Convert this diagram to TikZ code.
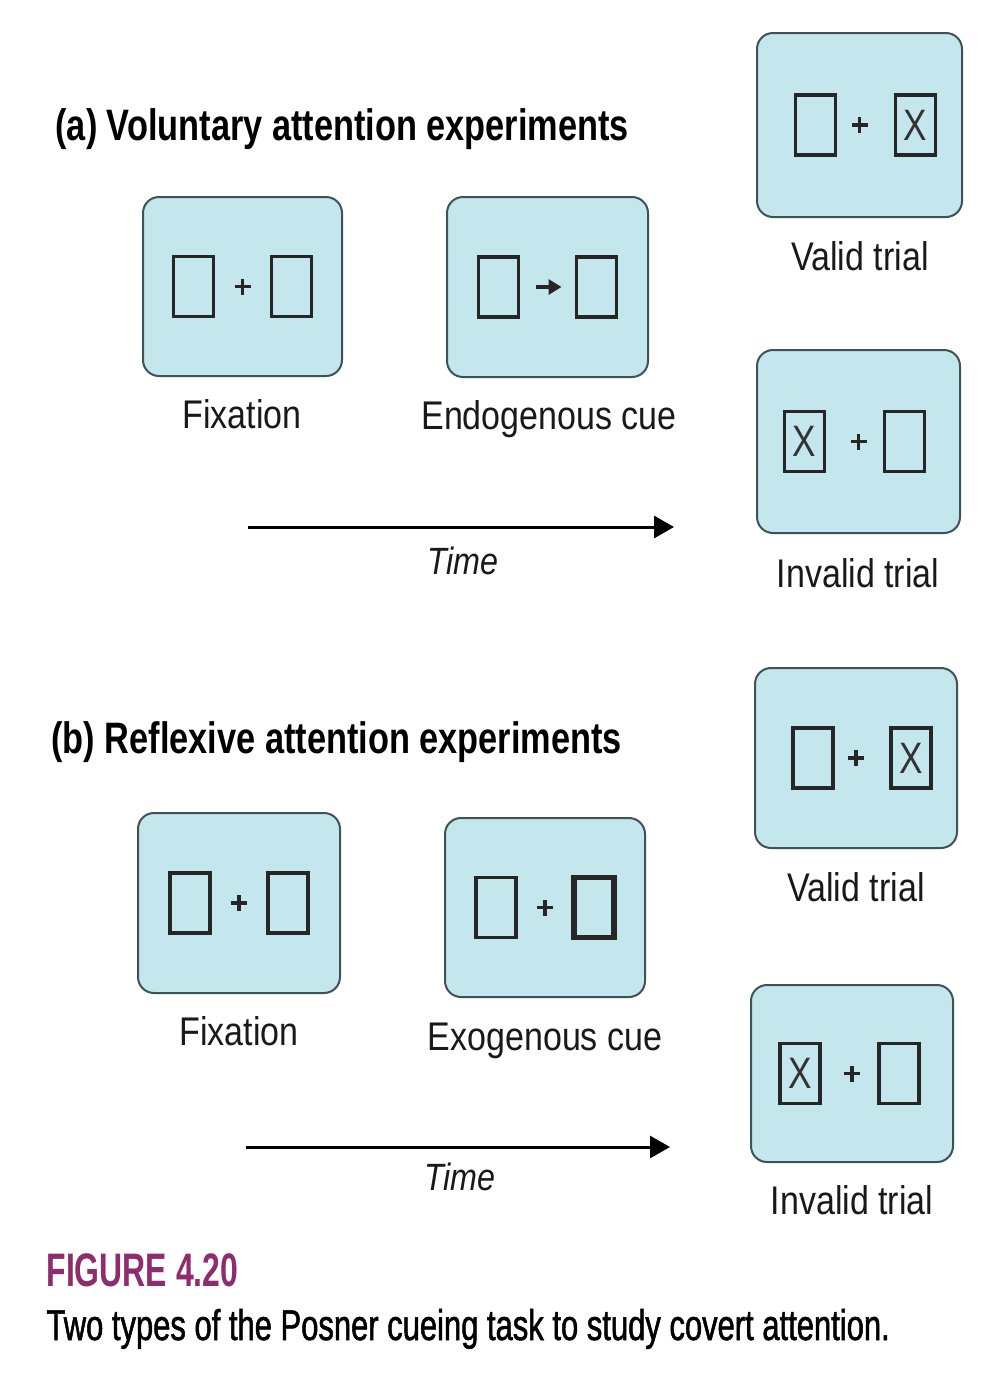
\documentclass[tikz,border=0pt]{standalone}
\usepackage{fontspec}
\usetikzlibrary{arrows.meta}
\newfontfamily\labfont[FakeStretch=0.85]{Liberation Sans}
\newfontfamily\headfont[FakeStretch=0.78]{Liberation Sans}
\newfontfamily\capfont[FakeStretch=0.72,FakeBold=1.2]{Liberation Sans}
\newfontfamily\figfont[FakeStretch=0.68]{Liberation Sans}
\newfontfamily\xletter[FakeStretch=0.8]{Liberation Sans}
\definecolor{panelfill}{RGB}{196,231,237}
\definecolor{paneledge}{RGB}{62,82,88}
\definecolor{figpurple}{RGB}{142,44,110}
\tikzset{
  panel/.style={draw=paneledge, line width=2pt, fill=panelfill, rounded corners=16pt, inner sep=0pt},
  slot/.style={draw=black!85, line width=3.4pt, minimum width=40pt, minimum height=60pt, inner sep=0pt,
    font=\xletter\fontsize{44}{44}\selectfont, text=black!80},
  boldslot/.style={slot, line width=5.5pt},
  lab/.style={anchor=base, font=\labfont\fontsize{40}{40}\selectfont, text=black!90},
  timelab/.style={anchor=base, font=\labfont\itshape\fontsize{38}{38}\selectfont, text=black!90},
  head/.style={anchor=base west, font=\headfont\bfseries\fontsize{44}{44}\selectfont},
  plusline/.style={line width=3.6pt, black!85},
  timearrow/.style={line width=3pt, -{Triangle[length=20pt,width=22pt]}},
}
\newcommand\plussign[1]{%
  \draw[plusline] ([xshift=-8pt]#1.center) -- ([xshift=8pt]#1.center);
  \draw[plusline] ([yshift=-8pt]#1.center) -- ([yshift=8pt]#1.center);}
\begin{document}
\begin{tikzpicture}[x=1pt,y=-1pt]
\useasboundingbox[fill=white] (0,0) rectangle (1008,1377);

% ---------- (a) ----------
\node[head] (ta) at (52,140) {(a) Voluntary attention experiments};

\node[panel, minimum width=199pt, minimum height=179pt] (fa) at (242.5,286.5) {};
\node[slot] (faL) at ([xshift=-49pt]fa.center) {};
\node[slot] (faR) at ([xshift=49pt]fa.center) {};
\plussign{fa}
\node[lab] (lfa) at (242,428) {Fixation};

\node[panel, minimum width=201pt, minimum height=180pt] (ea) at (547.5,287) {};
\node[slot] (eaL) at ([xshift=-49pt]ea.center) {};
\node[slot] (eaR) at ([xshift=49pt]ea.center) {};
\draw[line width=3.6pt, black!85, -{Triangle[length=13pt,width=15pt]}] ([xshift=-12pt]ea.center) -- ([xshift=14pt]ea.center);
\node[lab] (lea) at (549,429) {Endogenous cue};

\node[panel, minimum width=205pt, minimum height=184pt] (va) at (859.5,125) {};
\node[slot] (vaL) at ([xshift=-44pt]va.center) {};
\node[slot] (vaR) at ([xshift=56pt]va.center) {X};
\plussign{va}
\node[lab] (lva) at (860,270) {Valid trial};

\node[panel, minimum width=203pt, minimum height=183pt] (ia) at (858.5,441.5) {};
\node[slot] (iaL) at ([xshift=-54pt]ia.center) {X};
\node[slot] (iaR) at ([xshift=46pt]ia.center) {};
\plussign{ia}
\node[lab] (lia) at (858,587) {Invalid trial};

\coordinate (tas) at (248,527);
\coordinate (tae) at (674,527);
\draw[timearrow] (tas) -- (tae);
\node[timelab] (tla) at (463,574) {Time};

% ---------- (b) ----------
\node[head] (tb) at (48,753) {(b) Reflexive attention experiments};

\node[panel, minimum width=202pt, minimum height=180pt] (fb) at (239,903) {};
\node[slot] (fbL) at ([xshift=-49pt]fb.center) {};
\node[slot] (fbR) at ([xshift=49pt]fb.center) {};
\plussign{fb}
\node[lab] (lfb) at (239,1045) {Fixation};

\node[panel, minimum width=200pt, minimum height=179pt] (eb) at (545,907.5) {};
\node[slot] (ebL) at ([xshift=-49pt]eb.center) {};
\node[boldslot] (ebR) at ([xshift=49pt]eb.center) {};
\plussign{eb}
\node[lab] (leb) at (545,1050) {Exogenous cue};

\node[panel, minimum width=202pt, minimum height=180pt] (vb) at (856,758) {};
\node[slot] (vbL) at ([xshift=-43pt]vb.center) {};
\node[slot] (vbR) at ([xshift=55pt]vb.center) {X};
\plussign{vb}
\node[lab] (lvb) at (856,901) {Valid trial};

\node[panel, minimum width=202pt, minimum height=177pt] (ib) at (852,1073.5) {};
\node[slot] (ibL) at ([xshift=-52pt]ib.center) {X};
\node[slot] (ibR) at ([xshift=47pt]ib.center) {};
\plussign{ib}
\node[lab] (lib) at (852,1214) {Invalid trial};

\coordinate (tbs) at (246,1147);
\coordinate (tbe) at (670,1147);
\draw[timearrow] (tbs) -- (tbe);
\node[timelab] (tlb) at (460,1190) {Time};

% ---------- caption ----------
\node[anchor=base west, font=\figfont\bfseries\fontsize{47}{47}\selectfont, text=figpurple] (fig) at (43,1286) {FIGURE 4.20};
\node[anchor=base west, font=\capfont\fontsize{43}{43}\selectfont] (cap) at (43,1340) {Two types of the Posner cueing task to study covert attention.};
\end{tikzpicture}
\end{document}
